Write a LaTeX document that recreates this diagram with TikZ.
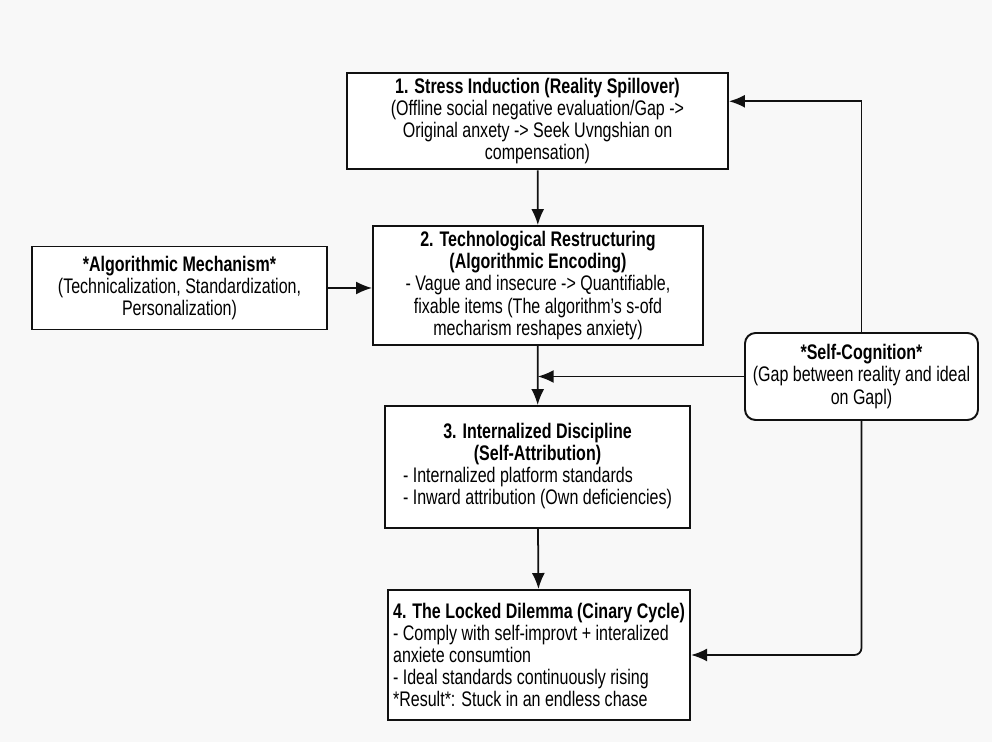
\documentclass[tikz,border=0pt]{standalone}
\usepackage{fontspec}
\setmainfont{Liberation Sans}[FakeStretch=0.76]
\usepackage{tikz}
\usetikzlibrary{arrows.meta,positioning,calc}
\definecolor{bgcol}{HTML}{F8F8F8}
\definecolor{linecol}{HTML}{111111}
\tikzset{
  box/.style={draw=linecol, line width=1.1pt, fill=white, align=center, inner sep=3pt, font=\fontsize{12}{12.6}\selectfont},
  boxr/.style={box, rounded corners=6pt},
  ar/.style={-{Latex[length=3.2mm,width=2.6mm]}, line width=1pt, draw=linecol},
}

\begin{document}
\begin{tikzpicture}[x=0.02cm, y=-0.02cm]
  \fill[bgcol] (0,0) rectangle (992,742);
  \useasboundingbox (0,0) rectangle (992,742);
  % main chain
  \node[box, minimum width=381*0.02cm, minimum height=94*0.02cm] (stress) at (537.5,121)
    {\textbf{1. Stress Induction (Reality Spillover)}\\(Offline social negative evaluation/Gap ->\\Original anxety -> Seek Uvngshian on\\compensation)};
  \node[box, minimum width=330*0.02cm, minimum height=119*0.02cm] (techno) at (538,285.5)
    {\textbf{2. Technological Restructuring}\\\textbf{(Algorithmic Encoding)}\\- Vague and insecure -> Quantifiable,\\fixable items (The algorithm's s-ofd\\mecharism reshapes anxiety)};
  \node[box, minimum width=305*0.02cm, minimum height=122*0.02cm] (disc) at (537.5,467)
    {\begin{tabular}{@{}l@{}}
      \multicolumn{1}{@{}c@{}}{\bfseries 3. Internalized Discipline}\\
      \multicolumn{1}{@{}c@{}}{\bfseries (Self-Attribution)}\\
      - Internalized platform standards\\
      - Inward attribution (Own deficiencies)
    \end{tabular}};
  \node[box, align=left, minimum width=302*0.02cm, minimum height=130*0.02cm] (lock) at (539,655)
    {\textbf{4. The Locked Dilemma (Cinary Cycle)}\\- Comply with self-improvt + interalized\\anxiete consumtion\\- Ideal standards continuously rising\\*Result*: Stuck in an endless chase};
  % side inputs
  \node[box, minimum width=295*0.02cm, minimum height=83*0.02cm] (algo) at (179.5,288)
    {\textbf{*Algorithmic Mechanism*}\\(Technicalization, Standardization,\\Personalization)};
  \node[boxr, minimum width=233*0.02cm, minimum height=87*0.02cm] (selfcog) at (861.5,376.5)
    {\textbf{*Self-Cognition*}\\(Gap between reality and ideal\\on Gapl)};
  \coordinate (join) at ($(techno.south)!.5!(disc.north)$);
  % connectors
  \draw[ar] (stress) -- (techno);
  \draw[ar] (techno) -- (disc);
  \draw[ar] (disc) -- (lock);
  \draw[ar] (algo.east) -- (algo.east -| techno.west);
  \draw[ar] (selfcog.west) -- (selfcog.west -| join);
  \draw[ar] (selfcog.north) |- ($(stress.north east)!.3!(stress.south east)$);
  \draw[ar, rounded corners=4pt] (selfcog.south) |- (lock.east);
\end{tikzpicture}
\end{document}
